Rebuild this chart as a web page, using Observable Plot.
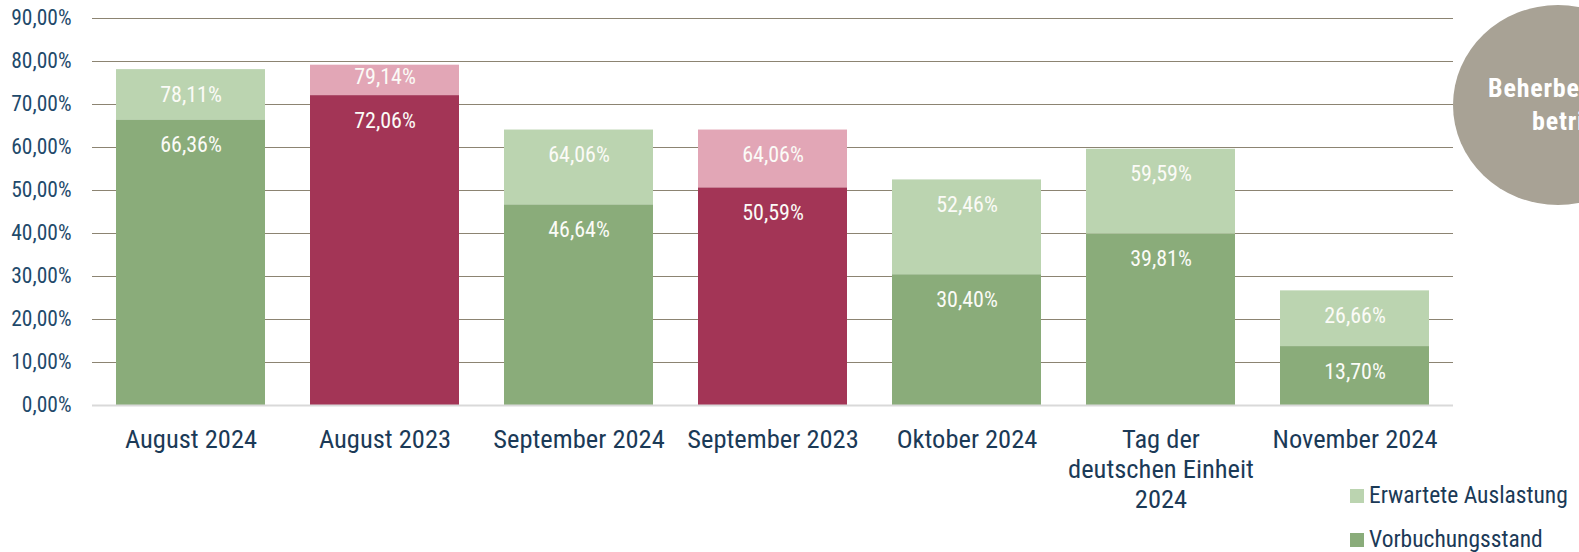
<!DOCTYPE html>
<html>
<head>
<meta charset="utf-8">
<script src="https://cdn.jsdelivr.net/npm/d3@7"></script>
<script src="https://cdn.jsdelivr.net/npm/@observablehq/plot@0.6"></script>
<style>
  html, body { margin: 0; padding: 0; background: #fff; overflow: hidden; }
  #wrap { position: relative; width: 1579px; height: 552px; overflow: hidden; font-family: "Roboto Condensed", Roboto, sans-serif; }
  #chart { position: absolute; left: 0; top: 0; }
  .ellipse { position: absolute; left: 1453px; top: 5px; width: 210px; height: 200px; border-radius: 50%; background: #a8a295; }
  .etext { position: absolute; color: #fff; font-weight: bold; font-size: 26px; letter-spacing: 0.8px; white-space: nowrap; }
  .legend { position: absolute; left: 1350px; color: #1b3a57; font-size: 23.5px; white-space: nowrap; }
  .legend span.sw { display: inline-block; width: 14px; height: 14px; margin-right: 5px; vertical-align: 0px; }
</style>
</head>
<body>
<div id="wrap">
  <div id="chart"></div>
  <div class="ellipse"></div>
  <div class="etext" style="left:1488px; top:73px;">Beherbergungs-</div>
  <div class="etext" style="left:1532px; top:106px;">betriebe</div>
  <div class="legend" style="top:481px;"><span class="sw" style="background:#bbd4b0"></span>Erwartete Auslastung</div>
  <div class="legend" style="top:525px;"><span class="sw" style="background:#8aac7a"></span>Vorbuchungsstand</div>
</div>
<script>
const categories = ["August 2024", "August 2023", "September 2024", "September 2023", "Oktober 2024", "Tag der deutschen Einheit 2024", "November 2024"];
const categoryLabels = ["August 2024", "August 2023", "September 2024", "September 2023", "Oktober 2024", "Tag der\ndeutschen Einheit\n2024", "November 2024"];
const years = ["2024", "2023", "2024", "2023", "2024", "2024", "2024"];
const vorbuchungsstand = [66.36, 72.06, 46.64, 50.59, 30.40, 39.81, 13.70];
const erwarteteAuslastung = [78.11, 79.14, 64.06, 64.06, 52.46, 59.59, 26.66];
const yTicks = [0, 10, 20, 30, 40, 50, 60, 70, 80, 90];

const darkColor = {"2024": "#8aac7a", "2023": "#a33556"};
const lightColor = {"2024": "#bbd4b0", "2023": "#e2a6b6"};

const data = categories.map((c, i) => ({
  cat: c, label: categoryLabels[i], year: years[i],
  vor: vorbuchungsstand[i], erw: erwarteteAuslastung[i]
}));

const fmt = v => v.toFixed(2).replace(".", ",") + "%";
const bigSeg = data.filter(d => d.erw - d.vor >= 10);
const smallSeg = data.filter(d => d.erw - d.vor < 10);

const chart = Plot.plot({
  width: 1579,
  height: 552,
  marginLeft: 92,
  marginRight: 126,
  marginTop: 18,
  marginBottom: 147,
  style: { fontFamily: "'Roboto Condensed', Roboto, sans-serif", background: "transparent" },
  x: { domain: categories, paddingInner: 0.23, paddingOuter: 0.115, axis: null },
  y: { domain: [0, 90], axis: null },
  marks: [
    Plot.ruleY(yTicks.filter(t => t > 0), { stroke: "#8c8472", strokeWidth: 1.2 }),
    Plot.barY(data, { x: "cat", y1: "vor", y2: "erw", fill: d => lightColor[d.year] }),
    Plot.barY(data, { x: "cat", y1: 0, y2: "vor", fill: d => darkColor[d.year] }),
    Plot.ruleY([0], { stroke: "#d9d9d9", strokeWidth: 2 }),
    Plot.text(bigSeg, { x: "cat", y: "erw", dy: 25, text: d => fmt(d.erw), fill: "#fbfbf7", fontSize: 22 }),
    Plot.text(smallSeg, { x: "cat", y: d => (d.vor + d.erw) / 2, dy: -3, text: d => fmt(d.erw), fill: "#fbfbf7", fontSize: 22 }),
    Plot.text(data, { x: "cat", y: "vor", dy: 25, text: d => fmt(d.vor), fill: "#fbfbf7", fontSize: 22 }),
    Plot.text(yTicks, { y: d => d, frameAnchor: "left", dx: -21, textAnchor: "end", text: d => fmt(d), fill: "#1f4a6b", fontSize: 21.5 }),
    Plot.text(data, { x: "cat", frameAnchor: "bottom", lineAnchor: "top", dy: 21, lineHeight: 1.14, text: "label", fill: "#1b3a57", fontSize: 26.5 })
  ]
});
document.getElementById("chart").appendChild(chart);
</script>
</body>
</html>
